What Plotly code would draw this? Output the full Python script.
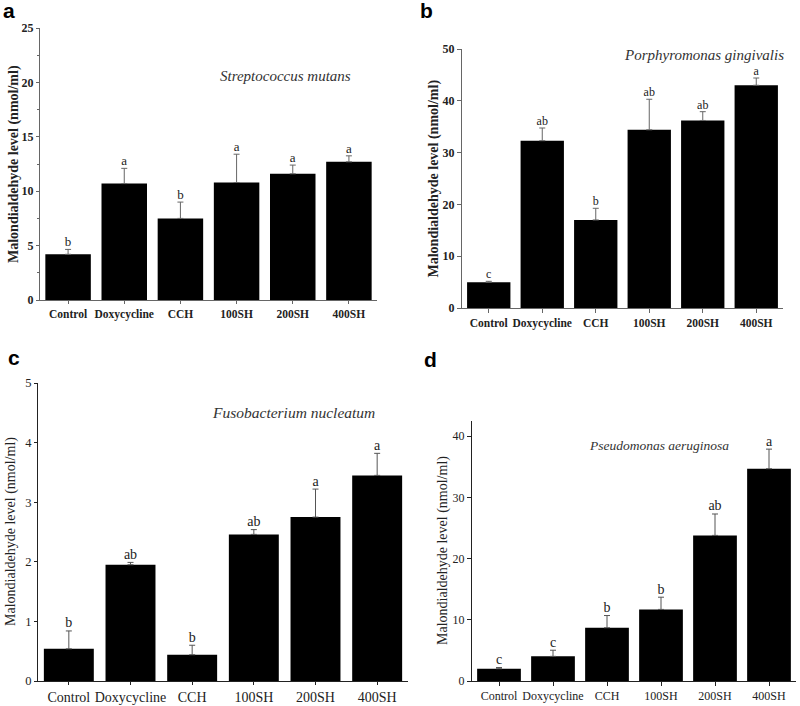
import plotly.graph_objects as go

W, H = 800, 706

categories = ["Control", "Doxycycline", "CCH", "100SH", "200SH", "400SH"]

# panel a - Streptococcus mutans
mda_a = [4.2, 10.7, 7.5, 10.8, 11.6, 12.7]
err_a = [0.45, 1.4, 1.5, 2.6, 0.8, 0.55]
sig_a = ["b", "a", "b", "a", "a", "a"]

# panel b - Porphyromonas gingivalis
mda_b = [4.95, 32.3, 17.0, 34.4, 36.2, 43.0]
err_b = [0.2, 2.45, 2.25, 5.9, 1.7, 1.4]
sig_b = ["c", "ab", "b", "ab", "ab", "a"]

# panel c - Fusobacterium nucleatum
mda_c = [0.54, 1.95, 0.44, 2.46, 2.75, 3.45]
err_c = [0.3, 0.04, 0.16, 0.08, 0.47, 0.37]
sig_c = ["b", "ab", "b", "ab", "a", "a"]

# panel d - Pseudomonas aeruginosa
mda_d = [2.0, 4.03, 8.7, 11.7, 23.8, 34.7]
err_d = [0.2, 1.0, 2.0, 2.0, 3.5, 3.2]
sig_d = ["c", "c", "b", "b", "ab", "a"]

ytitle = "Malondialdehyde level (nmol/ml)"


def px(x):
    return x / W


def py(y):
    return 1 - y / H


# pixel boxes (left, right, top, bottom) + styling per panel
panels = [
    dict(vals=mda_a, errs=err_a, sig=sig_a, name="Streptococcus mutans",
         box=(40, 377, 28, 300), yrange=[0, 25], dtick=5, minor=2.5,
         bold=True, axcol="#666666", errcol="#666666",
         label="a", lab_xy=(9, 10), title_x=14,
         sp_xy=(285, 76), sp_size=15, tick_size=12, xtick_size=11.5, sig_size=13,
         ticklen=3),
    dict(vals=mda_b, errs=err_b, sig=sig_b, name="Porphyromonas gingivalis",
         box=(462, 783, 49, 308), yrange=[0, 50], dtick=10, minor=None,
         bold=True, axcol="#666666", errcol="#666666",
         label="b", lab_xy=(427, 10), title_x=434,
         sp_xy=(704, 55), sp_size=15, tick_size=12, xtick_size=11.5, sig_size=12,
         ticklen=4),
    dict(vals=mda_c, errs=err_c, sig=sig_c, name="Fusobacterium nucleatum",
         box=(38, 408, 383, 681), yrange=[0, 5], dtick=1, minor=None,
         bold=False, axcol="#222222", errcol="#555555",
         label="c", lab_xy=(14, 357), title_x=11,
         sp_xy=(293, 413), sp_size=15.5, tick_size=12.5, xtick_size=14, sig_size=14,
         ticklen=3),
    dict(vals=mda_d, errs=err_d, sig=sig_d, name="Pseudomonas aeruginosa",
         box=(472, 796, 421, 681), yrange=[0, 42.5], dtick=10, minor=None,
         bold=False, axcol="#222222", errcol="#555555",
         label="d", lab_xy=(431, 359), title_x=443,
         sp_xy=(659, 445), sp_size=13.5, tick_size=12, xtick_size=12, sig_size=14,
         ticklen=4),
]

fig = go.Figure()
annotations = []
layout = dict(
    width=W, height=H,
    margin=dict(l=0, r=0, t=0, b=0, autoexpand=False),
    plot_bgcolor="white", paper_bgcolor="white",
    showlegend=False, bargap=0.19,
)

for i, p in enumerate(panels):
    n = "" if i == 0 else str(i + 1)
    xref, yref = "x" + n, "y" + n
    family = "Liberation Serif"
    weight = "bold" if p["bold"] else "normal"

    fig.add_trace(go.Bar(
        x=categories, y=p["vals"],
        marker=dict(color="black", line=dict(width=0)),
        error_y=dict(type="data", array=p["errs"], symmetric=False,
                     arrayminus=[0] * len(p["errs"]),
                     color=p["errcol"], thickness=1, width=3),
        xaxis=xref, yaxis=yref, hoverinfo="skip",
    ))
    fig.add_trace(go.Scatter(
        x=categories, y=[v + e for v, e in zip(p["vals"], p["errs"])],
        mode="text", text=p["sig"], textposition="top center",
        textfont=dict(family=family, size=p["sig_size"], color="#222222"),
        xaxis=xref, yaxis=yref, hoverinfo="skip",
    ))

    l, r, t, b = p["box"]
    layout["xaxis" + n] = dict(
        domain=[px(l), px(r)], anchor=yref, range=[-0.5, 5.5],
        automargin=False,
        showline=True, linecolor=p["axcol"], linewidth=1,
        ticks="outside", ticklen=p["ticklen"], tickcolor=p["axcol"],
        showgrid=False, zeroline=False, fixedrange=True,
        tickfont=dict(family=family, size=p["xtick_size"], color="#222222",
                      weight=weight),
    )
    yax = dict(
        domain=[py(b), py(t)], anchor=xref, range=p["yrange"],
        automargin=False, tick0=0, dtick=p["dtick"],
        showline=True, linecolor=p["axcol"], linewidth=1,
        ticks="outside", ticklen=p["ticklen"], tickcolor=p["axcol"],
        showgrid=False, zeroline=False, fixedrange=True,
        tickfont=dict(family=family, size=p["tick_size"], color="#222222",
                      weight=weight),
    )
    if p["minor"]:
        yax["minor"] = dict(dtick=p["minor"], tick0=0, ticks="outside",
                            ticklen=2, tickcolor=p["axcol"], showgrid=False)
    layout["yaxis" + n] = yax

    # panel letter
    annotations.append(dict(
        x=px(p["lab_xy"][0]), y=py(p["lab_xy"][1]), xref="paper", yref="paper",
        text="<b>" + p["label"] + "</b>", showarrow=False,
        font=dict(family="Liberation Sans", size=21, color="black"),
        xanchor="center", yanchor="middle",
    ))
    # y axis title
    annotations.append(dict(
        x=px(p["title_x"]), y=py((t + b) / 2), xref="paper", yref="paper",
        text=("<b>" + ytitle + "</b>") if p["bold"] else ytitle,
        textangle=-90, showarrow=False,
        font=dict(family=family, size=14, color="#222222"),
        xanchor="center", yanchor="middle",
    ))
    # species name
    annotations.append(dict(
        x=px(p["sp_xy"][0]), y=py(p["sp_xy"][1]), xref="paper", yref="paper",
        text="<i>" + p["name"] + "</i>", showarrow=False,
        font=dict(family=family, size=p["sp_size"], color="#333333"),
        xanchor="center", yanchor="middle",
    ))

layout["annotations"] = annotations
fig.update_layout(**layout)

# drop the default body margin so the 800x706 figure fills the window exactly
fig.write_html("out.html",
               config={"displayModeBar": False},
               post_script="document.body.style.margin='0';"
                           "document.body.style.overflow='hidden';")
